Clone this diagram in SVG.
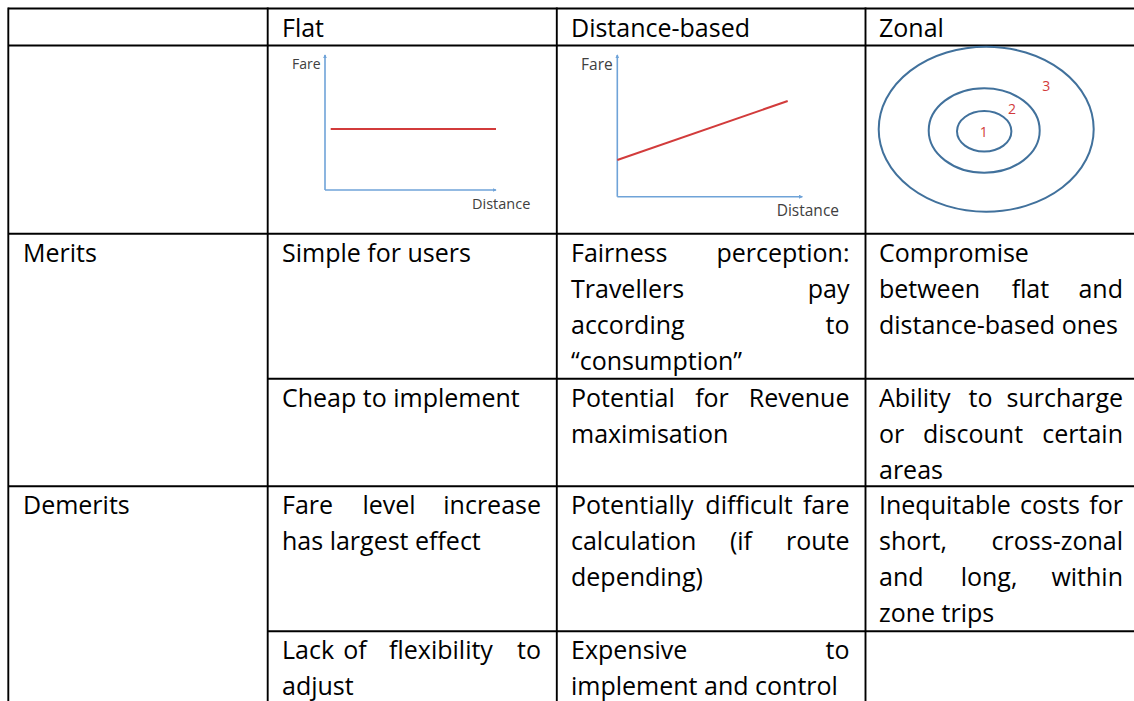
<svg xmlns="http://www.w3.org/2000/svg" width="1134" height="701" viewBox="0 0 1134 701">
<style>
.t{font-family:"Open Sans","Liberation Sans",sans-serif;font-size:25px;fill:#000}
.e{text-anchor:end}
.m{text-anchor:middle}
.g{stroke:#000;stroke-width:1.9;fill:none}
.ax{stroke:#6fa3d8;stroke-width:1.6;fill:none}
.red{stroke:#d23b3b;stroke-width:2;fill:none}
.lbl{font-family:"Open Sans","Liberation Sans",sans-serif;fill:#404040}
.ring{stroke:#41719c;stroke-width:2;fill:none}
.zn{font-family:"Open Sans","Liberation Sans",sans-serif;font-size:14px;fill:#d23b3b;text-anchor:middle}
</style>
<defs>
<marker id="ah" viewBox="0 0 6 6" refX="5" refY="3" markerWidth="4" markerHeight="4" orient="auto" markerUnits="userSpaceOnUse">
<path d="M0,0 L6,3 L0,6 z" fill="#6fa3d8"/>
</marker>
</defs>
<rect width="1134" height="701" fill="#fff"/>
<g id="grid">
<line class="g" x1="8.3" y1="8.5" x2="1134" y2="8.5"/>
<line class="g" x1="8.3" y1="45.5" x2="1134" y2="45.5"/>
<line class="g" x1="8.3" y1="233.7" x2="1134" y2="233.7"/>
<line class="g" x1="267.7" y1="378.7" x2="1134" y2="378.7"/>
<line class="g" x1="8.3" y1="486.3" x2="1134" y2="486.3"/>
<line class="g" x1="267.7" y1="631.3" x2="1134" y2="631.3"/>
<line class="g" x1="8.3" y1="7.6" x2="8.3" y2="701"/>
<line class="g" x1="267.7" y1="7.6" x2="267.7" y2="701"/>
<line class="g" x1="556.8" y1="7.6" x2="556.8" y2="701"/>
<line class="g" x1="865.5" y1="7.6" x2="865.5" y2="701"/>
</g>
<g id="header">
<text class="t" x="282" y="37">Flat</text>
<text class="t" x="571" y="37">Distance-based</text>
<text class="t" x="879" y="37">Zonal</text>
</g>
<g id="flat-graph">
<line class="ax" x1="325" y1="190" x2="325" y2="55" marker-end="url(#ah)"/>
<line class="ax" x1="325" y1="190" x2="496" y2="190" marker-end="url(#ah)"/>
<line class="red" x1="330.7" y1="129" x2="496" y2="129"/>
<text class="lbl" x="320.5" y="69" font-size="14" text-anchor="end">Fare</text>
<text class="lbl" x="472" y="209.3" font-size="14.5">Distance</text>
</g>
<g id="distance-graph">
<line class="ax" x1="617.3" y1="196.7" x2="617.3" y2="55" marker-end="url(#ah)"/>
<line class="ax" x1="617.3" y1="196.7" x2="802.3" y2="196.7" marker-end="url(#ah)"/>
<line class="red" x1="617.3" y1="160" x2="787.7" y2="101"/>
<text class="lbl" x="612.7" y="70" font-size="15.5" text-anchor="end">Fare</text>
<text class="lbl" x="776.7" y="216" font-size="15.5">Distance</text>
</g>
<g id="zonal-graph">
<ellipse class="ring" cx="986.2" cy="129.2" rx="107.5" ry="82.5"/>
<ellipse class="ring" cx="984.2" cy="130.5" rx="55.5" ry="42.2"/>
<ellipse class="ring" cx="984.2" cy="131.3" rx="27.2" ry="20.3"/>
<text class="zn" x="983.7" y="136.7">1</text>
<text class="zn" x="1012" y="114">2</text>
<text class="zn" x="1046.3" y="91">3</text>
</g>
<g id="labels">
<text class="t" x="23" y="262">Merits</text>
<text class="t" x="23" y="514">Demerits</text>
</g>
<g id="merits-1">
<text class="t" x="282" y="262">Simple for users</text>
<text class="t" x="571" y="262">Fairness</text>
<text class="t e" x="849.5" y="262">perception:</text>
<text class="t" x="571" y="298">Travellers</text>
<text class="t e" x="849.5" y="298">pay</text>
<text class="t" x="571" y="334">according</text>
<text class="t e" x="849.5" y="334">to</text>
<text class="t" x="571" y="370">“consumption”</text>
<text class="t" x="879" y="262">Compromise</text>
<text class="t" x="879" y="298">between</text>
<text class="t m" x="1030.4" y="298">flat</text>
<text class="t e" x="1123" y="298">and</text>
<text class="t" x="879" y="334">distance-based ones</text>
</g>
<g id="merits-2">
<text class="t" x="282" y="407">Cheap to implement</text>
<text class="t" x="571" y="407">Potential</text>
<text class="t m" x="712" y="407">for</text>
<text class="t e" x="849.5" y="407">Revenue</text>
<text class="t" x="571" y="443">maximisation</text>
<text class="t" x="879" y="407">Ability</text>
<text class="t m" x="980.6" y="407">to</text>
<text class="t e" x="1123" y="407">surcharge</text>
<text class="t" x="879" y="443">or</text>
<text class="t m" x="973" y="443">discount</text>
<text class="t e" x="1123" y="443">certain</text>
<text class="t" x="879" y="479">areas</text>
</g>
<g id="demerits-1">
<text class="t" x="282" y="514">Fare</text>
<text class="t m" x="389" y="514">level</text>
<text class="t e" x="541" y="514">increase</text>
<text class="t" x="282" y="550">has largest effect</text>
<text class="t" x="571" y="514">Potentially</text>
<text class="t m" x="749" y="514">difficult</text>
<text class="t e" x="849.5" y="514">fare</text>
<text class="t" x="571" y="550">calculation</text>
<text class="t m" x="741" y="550">(if</text>
<text class="t e" x="849.5" y="550">route</text>
<text class="t" x="571" y="586">depending)</text>
<text class="t" x="879" y="514">Inequitable</text>
<text class="t m" x="1050" y="514">costs</text>
<text class="t e" x="1123" y="514">for</text>
<text class="t" x="879" y="550">short,</text>
<text class="t e" x="1123" y="550">cross-zonal</text>
<text class="t" x="879" y="586">and</text>
<text class="t m" x="989" y="586">long,</text>
<text class="t e" x="1123" y="586">within</text>
<text class="t" x="879" y="622">zone trips</text>
</g>
<g id="demerits-2">
<text class="t" x="282" y="659.3">Lack</text>
<text class="t m" x="355" y="659.3">of</text>
<text class="t m" x="441" y="659.3">flexibility</text>
<text class="t e" x="541" y="659.3">to</text>
<text class="t" x="282" y="695.3">adjust</text>
<text class="t" x="571" y="659.3">Expensive</text>
<text class="t e" x="849.5" y="659.3">to</text>
<text class="t" x="571" y="695.3">implement and control</text>
</g>
</svg>
